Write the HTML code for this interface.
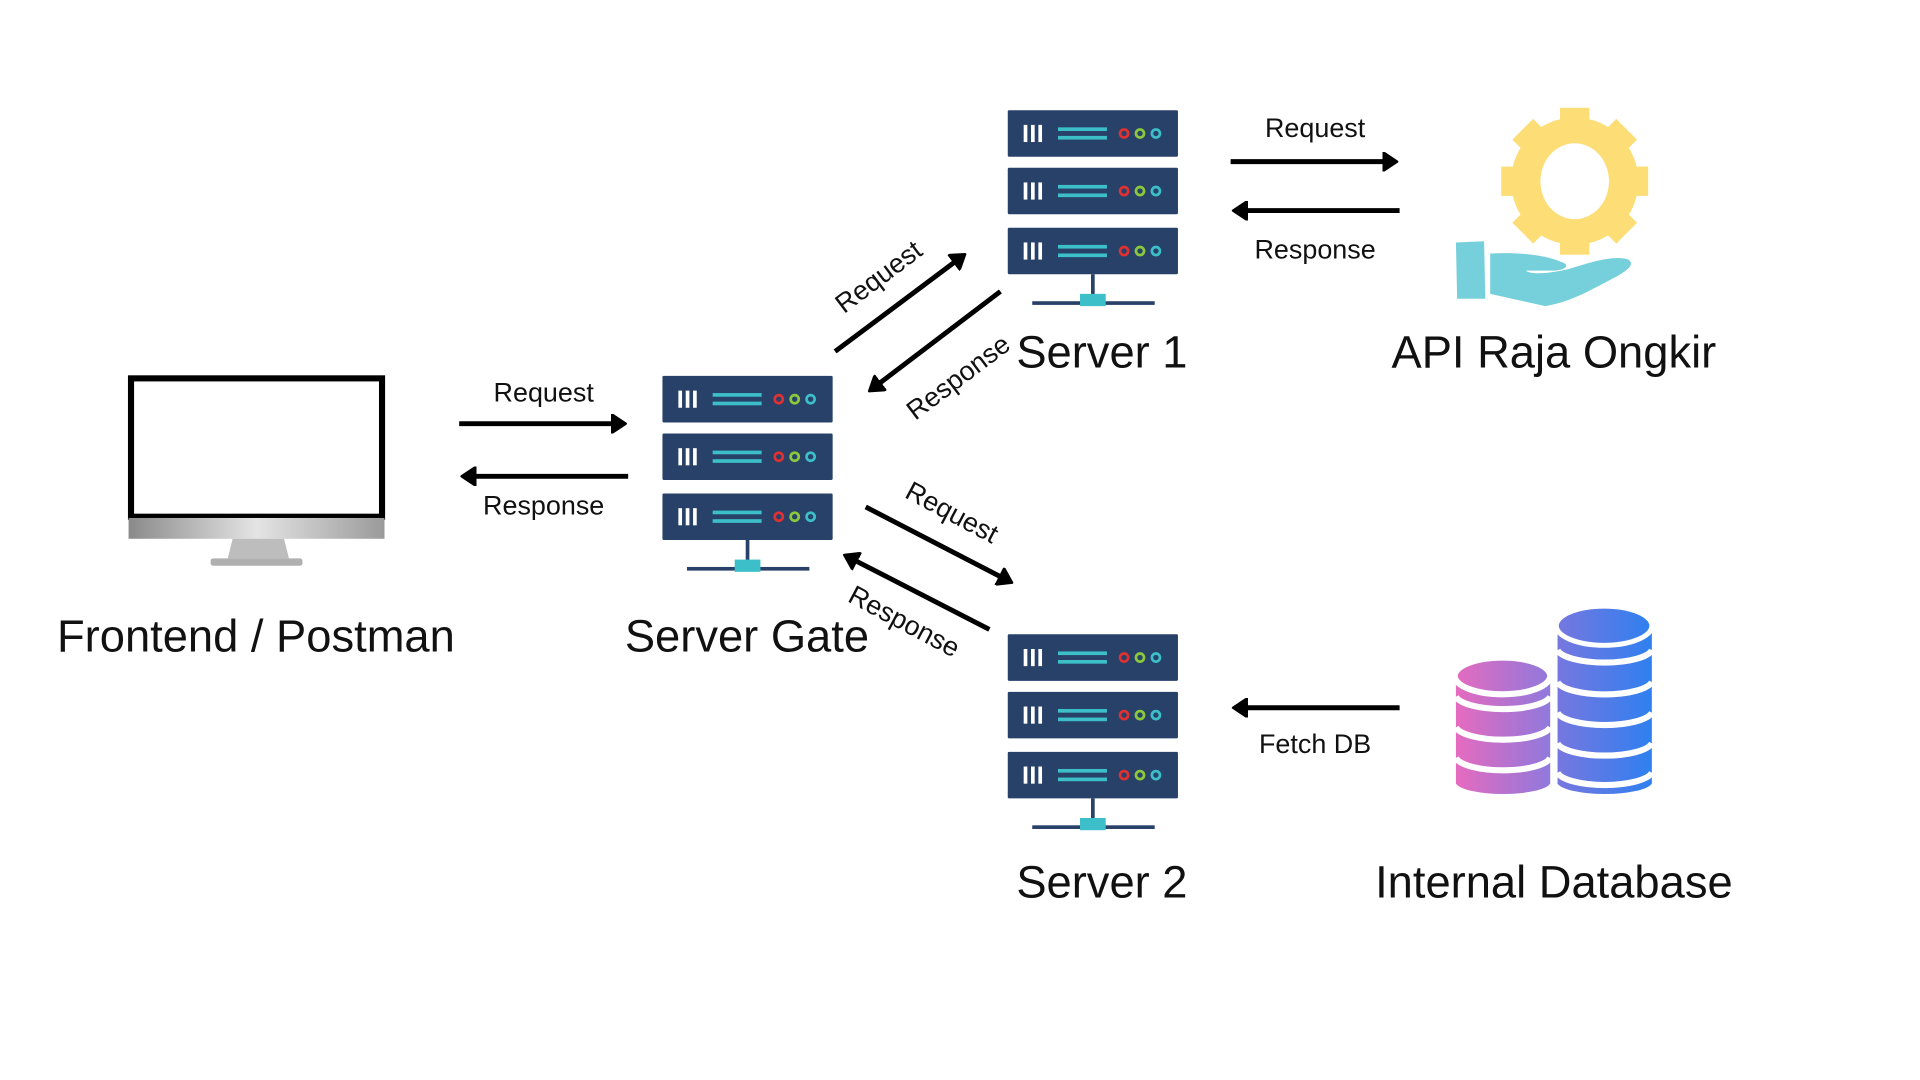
<!DOCTYPE html>
<html><head><meta charset="utf-8"><style>html,body{margin:0;padding:0;background:#fff;width:1920px;height:1080px;overflow:hidden}svg{display:block}text{font-family:"Liberation Sans",sans-serif;fill:#111}</style></head><body>
<svg width="1920" height="1080" viewBox="0 0 1568 882" xmlns="http://www.w3.org/2000/svg">
<defs>
<g id="unit"><rect width="139" height="38" rx="1" fill="#284169"/>
<rect x="13" y="12" width="3" height="14" fill="#fff"/><rect x="19" y="12" width="3" height="14" fill="#fff"/><rect x="25" y="12" width="3" height="14" fill="#fff"/>
<rect x="41" y="14" width="40" height="3" fill="#3cbfc8"/><rect x="41" y="21" width="40" height="3" fill="#3cbfc8"/>
<circle cx="95" cy="19" r="3.3" fill="none" stroke="#e03030" stroke-width="2.2"/><circle cx="108" cy="19" r="3.3" fill="none" stroke="#8cc83c" stroke-width="2.2"/><circle cx="121" cy="19" r="3.3" fill="none" stroke="#3cbfc8" stroke-width="2.2"/></g>
<g id="server"><use href="#unit"/><use href="#unit" y="47"/><use href="#unit" y="96"/>
<rect x="68" y="134" width="3" height="24" fill="#284169"/><rect x="20" y="156" width="100" height="3" fill="#284169"/><rect x="59" y="150" width="21" height="10" fill="#3cbfc8"/></g>
<marker id="ah" markerWidth="4" markerHeight="4" refX="2" refY="2" orient="auto" markerUnits="strokeWidth"><path d="M0,0 L3,2 L0,4 Z" fill="#000" stroke="#000" stroke-width="0.5" stroke-linejoin="round"/></marker>
<linearGradient id="gL" x1="0" x2="1"><stop offset="0" stop-color="#e56bbf"/><stop offset="1" stop-color="#8f79dc"/></linearGradient>
<linearGradient id="gR" x1="0" x2="1"><stop offset="0" stop-color="#7777df"/><stop offset="1" stop-color="#2f80f0"/></linearGradient>
<linearGradient id="chin" x1="0" x2="1"><stop offset="0" stop-color="#8a8a8a"/><stop offset="0.5" stop-color="#e4e4e4"/><stop offset="1" stop-color="#9a9a9a"/></linearGradient>
</defs>
<!-- monitor -->
<rect x="107" y="309" width="205" height="113" fill="#fff" stroke="#000" stroke-width="5"/>
<rect x="105" y="423" width="209" height="17" fill="url(#chin)"/>
<path d="M190 440 L232 440 L236 456 L186 456 Z" fill="#bdbdbd"/>
<rect x="172" y="456" width="75" height="6" rx="2" fill="#b0b0b0"/>
<use href="#server" x="541" y="307"/>
<use href="#server" x="823" y="90"/>
<use href="#server" x="823" y="518"/>
<!-- gear -->
<g fill="#fddd75"><circle cx="1286" cy="148" r="52"/>
<g id="t"><rect x="1274" y="88" width="24" height="18"/></g>
<use href="#t" transform="rotate(45 1286 148)"/><use href="#t" transform="rotate(90 1286 148)"/><use href="#t" transform="rotate(135 1286 148)"/><use href="#t" transform="rotate(180 1286 148)"/><use href="#t" transform="rotate(225 1286 148)"/><use href="#t" transform="rotate(270 1286 148)"/><use href="#t" transform="rotate(315 1286 148)"/></g>
<ellipse cx="1286" cy="148" rx="28" ry="31" fill="#fff"/>
<g fill="#76d0dc"><path d="M1189 198 L1212 197 L1213 244 L1190 244 Z"/>
<path d="M1217 207 C1240 206 1262 208 1275 214 C1282 216 1280 220 1270 221 L1246 221 C1250 224 1262 224 1280 220 C1300 214 1318 208 1330 212 C1335 216 1330 220 1320 226 C1300 236 1285 246 1262 250 L1217 240 Z"/></g>
<!-- database -->
<g fill="url(#gL)"><path d="M1189 552 L1189 640 A39 10 0 0 0 1266 640 L1266 552 Z"/></g>
<g stroke="#fff" stroke-width="5" fill="none"><path d="M1189 569 A39 12 0 0 0 1266 569"/><path d="M1189 594 A39 12 0 0 0 1266 594"/><path d="M1189 619 A39 12 0 0 0 1266 619"/></g>
<ellipse cx="1227" cy="552" rx="39" ry="15" fill="url(#gL)" stroke="#fff" stroke-width="5"/>
<g fill="url(#gR)"><path d="M1272 512 L1272 640 A39 10 0 0 0 1349 640 L1349 512 Z"/></g>
<g stroke="#fff" stroke-width="5" fill="none"><path d="M1272 531 A39 12 0 0 0 1349 531"/><path d="M1272 557 A39 12 0 0 0 1349 557"/><path d="M1272 582 A39 12 0 0 0 1349 582"/><path d="M1272 607 A39 12 0 0 0 1349 607"/><path d="M1272 631 A39 12 0 0 0 1349 631"/></g>
<ellipse cx="1310" cy="511" rx="39" ry="16" fill="url(#gR)" stroke="#fff" stroke-width="4"/>
<!-- arrows -->
<g stroke="#000" stroke-width="4" marker-end="url(#ah)">
<line x1="375" y1="346" x2="507" y2="346"/><line x1="513" y1="389" x2="381" y2="389"/>
<line x1="682" y1="287" x2="785" y2="210"/><line x1="817" y1="238" x2="713" y2="317"/>
<line x1="707" y1="414" x2="823" y2="474"/><line x1="808" y1="514" x2="693" y2="455"/>
<line x1="1005" y1="132" x2="1137" y2="132"/><line x1="1143" y1="172" x2="1011" y2="172"/>
<line x1="1143" y1="578" x2="1011" y2="578"/></g>
<!-- labels -->
<g font-size="22">
<text x="444" y="328" text-anchor="middle">Request</text>
<text x="444" y="420" text-anchor="middle">Response</text>
<text x="1074" y="112" text-anchor="middle">Request</text>
<text x="1074" y="211" text-anchor="middle">Response</text>
<text x="1074" y="615" text-anchor="middle">Fetch DB</text>
<text transform="translate(722,232) rotate(-37)" text-anchor="middle">Request</text>
<text transform="translate(787,314) rotate(-37)" text-anchor="middle">Response</text>
<text transform="translate(774,425) rotate(28)" text-anchor="middle">Request</text>
<text transform="translate(735,514) rotate(28)" text-anchor="middle">Response</text>
</g>
<g font-size="37">
<text x="209" y="532" text-anchor="middle">Frontend / Postman</text>
<text x="610" y="532" text-anchor="middle">Server Gate</text>
<text x="830" y="300">Server 1</text>
<text x="1269" y="300" text-anchor="middle">API Raja Ongkir</text>
<text x="830" y="733">Server 2</text>
<text x="1269" y="733" text-anchor="middle">Internal Database</text>
</g>
</svg>
</body></html>
